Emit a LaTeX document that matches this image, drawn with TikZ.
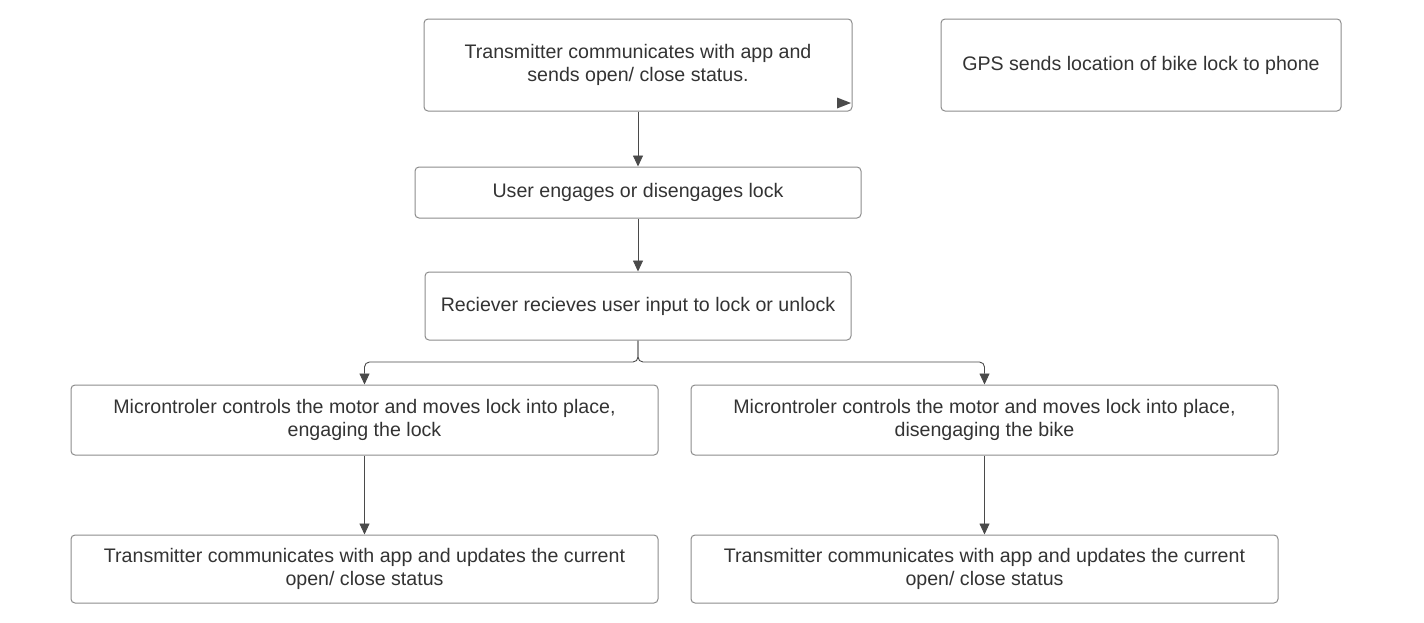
\documentclass[tikz,border=0pt]{standalone}
\usepackage{fontspec}
\setmainfont{Liberation Sans}
\usetikzlibrary{arrows.meta}
\definecolor{boxline}{HTML}{8C8C8C}
\definecolor{txt}{HTML}{333333}
\definecolor{arr}{HTML}{4A4A4A}
\tikzset{
  flowbox/.style={draw=boxline, line width=1pt, rounded corners=4pt, align=center,
    text=txt, font=\fontsize{19.6}{23}\selectfont, inner sep=0pt},
  conn/.style={draw=arr, line width=0.9pt, rounded corners=5pt,
    -{Triangle[length=11pt,width=10pt]}},
}
\begin{document}
\begin{tikzpicture}[x=1pt,y=-1pt]
\useasboundingbox (0,0) rectangle (1424,622);
\node[flowbox, minimum width=428pt, minimum height=92pt] (b1) at (638,65)
  {Transmitter communicates with app and\\sends open/ close status.};
\node[flowbox, minimum width=400pt, minimum height=92pt] (gps) at (1141,65)
  {GPS sends location of bike lock to phone};
\node[flowbox, minimum width=446pt, minimum height=51pt] (b2) at (638,192.5)
  {User engages or disengages lock};
\node[flowbox, minimum width=426pt, minimum height=68pt] (b3) at (638,306)
  {Reciever recieves user input to lock or unlock};
\node[flowbox, minimum width=587pt, minimum height=70pt] (l4) at (364.5,420)
  {Microntroler controls the motor and moves lock into place,\\engaging the lock};
\node[flowbox, minimum width=587pt, minimum height=70pt] (r4) at (984.5,420)
  {Microntroler controls the motor and moves lock into place,\\disengaging the bike};
\node[flowbox, minimum width=587pt, minimum height=68pt] (l5) at (364.5,569)
  {Transmitter communicates with app and updates the current\\open/ close status};
\node[flowbox, minimum width=587pt, minimum height=68pt] (r5) at (984.5,569)
  {Transmitter communicates with app and updates the current\\open/ close status};
\fill[arr] (837,97.5) -- (851,103) -- (837,108.5) -- cycle;
\draw[conn] (b1.south) -- (b2.north);
\draw[conn] (b2.south) -- (b3.north);
\coordinate (split) at (638,362);
\draw[conn] (b3.south) -- (split) -| (l4.north);
\draw[conn] (b3.south) -- (split) -| (r4.north);
\draw[conn] (l4.south) -- (l5.north);
\draw[conn] (r4.south) -- (r5.north);
\end{tikzpicture}
\end{document}
